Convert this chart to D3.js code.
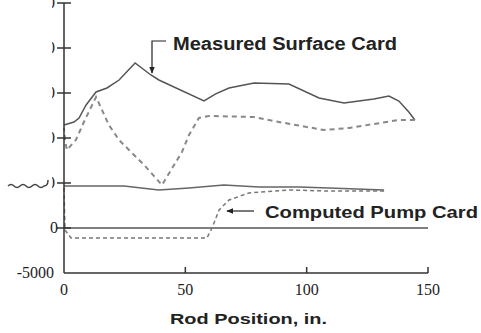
<!DOCTYPE html>
<html>
<head>
<meta charset="utf-8">
<script src="https://cdn.jsdelivr.net/npm/d3@7/dist/d3.min.js"></script>
<style>
  body { margin: 0; background: #fff; }
  text { fill: #222; }
</style>
</head>
<body>
<svg id="chart" width="481" height="333"></svg>
<script>
'use strict';

var xTicks = [0, 50, 100, 150];
var yTicks = [-5000, 0, 5000, 10000, 15000, 20000, 25000];

// measured surface card, upstroke (solid)
var surfUpX = [0, 4.1, 6.2, 9.1, 13.2, 17.7, 22.7, 29.3, 35.8, 39.1, 57.7, 62.5, 68.0, 78.3, 92.7, 105.1, 115.4, 127.7, 133.9, 138.0, 142.1, 144.6];
var surfUpY = [11444, 11778, 12222, 13667, 15111, 15556, 16444, 18333, 17000, 16444, 14111, 14900, 15556, 16111, 16000, 14444, 13889, 14333, 14667, 14111, 12889, 12000];

// measured surface card, downstroke (dashed)
var surfDownX = [144.6, 138.0, 117.4, 107.1, 88.6, 78.3, 59.7, 55.6, 51.5, 48.6, 40.4, 33.0, 26.8, 22.7, 18.5, 13.2, 8.2, 4.9, 1.2, 0.4, 0];
var surfDownY = [12000, 12000, 11111, 10889, 11778, 12333, 12444, 12222, 10333, 8444, 4778, 7000, 8667, 9778, 11444, 14556, 11778, 9778, 8667, 9778, 11111];

// computed pump card
var pumpUpX = [0, 24.7, 39.1, 51.5, 65.9, 80.3, 96.8, 109.2, 131.9];
var pumpUpY = [4667, 4667, 4222, 4444, 4778, 4556, 4556, 4444, 4222];
var pumpDownX = [0, 0.4, 2.9, 58.9, 61.0, 63.9, 68.0, 76.2, 92.7, 109.2, 131.9];
var pumpDownY = [4444, -222, -1111, -1111, 0, 2000, 3111, 3889, 4222, 4111, 4111];

var zeroLineX = [0, 150];

var svg = d3.select('#chart');

var x = d3.scaleLinear().domain([0, 150]).range([64, 428]);
var y = d3.scaleLinear().domain([-5000, 25000]).range([273, 3]);

function zip(xs, ys) {
    return xs.map(function (v, i) { return [v, ys[i]]; });
}

var line = d3.line()
    .x(function (d) { return x(d[0]); })
    .y(function (d) { return y(d[1]); });

var defs = svg.append('defs');
defs.append('clipPath').attr('id', 'cutLabels')
    .append('rect').attr('x', 52).attr('y', 0).attr('width', 20).attr('height', 333);
defs.append('marker').attr('id', 'head')
    .attr('viewBox', '0 0 10 10').attr('refX', 9).attr('refY', 5)
    .attr('markerWidth', 6).attr('markerHeight', 6).attr('orient', 'auto')
    .append('path').attr('d', 'M0,1L10,5L0,9Z').attr('fill', '#222');

// zero line
svg.append('path')
    .attr('d', line(zip(zeroLineX, [0, 0])))
    .attr('fill', 'none').attr('stroke', '#555').attr('stroke-width', 1.5);

// surface card
svg.append('path')
    .attr('d', line(zip(surfUpX, surfUpY)))
    .attr('fill', 'none').attr('stroke', '#555').attr('stroke-width', 1.5);
svg.append('path')
    .attr('d', line(zip(surfDownX, surfDownY)))
    .attr('fill', 'none').attr('stroke', '#888').attr('stroke-width', 2)
    .attr('stroke-dasharray', '5,4');

// pump card
svg.append('path')
    .attr('d', line(zip(pumpUpX, pumpUpY)))
    .attr('fill', 'none').attr('stroke', '#666').attr('stroke-width', 1.5);
svg.append('path')
    .attr('d', line(zip(pumpDownX, pumpDownY)))
    .attr('fill', 'none').attr('stroke', '#777').attr('stroke-width', 1.5)
    .attr('stroke-dasharray', '4,3');

// axes
svg.append('line')
    .attr('x1', x(0)).attr('x2', x(0)).attr('y1', y(25000)).attr('y2', y(-5000))
    .attr('stroke', '#333').attr('stroke-width', 1.5);
svg.append('line')
    .attr('x1', x(0)).attr('x2', x(150)).attr('y1', y(-5000)).attr('y2', y(-5000))
    .attr('stroke', '#333').attr('stroke-width', 1.5);

svg.selectAll('.ytick').data(yTicks.slice(1)).enter()
    .append('line').attr('class', 'ytick')
    .attr('x1', x(0) - 7).attr('x2', x(0) + 7)
    .attr('y1', function (d) { return y(d); }).attr('y2', function (d) { return y(d); })
    .attr('stroke', '#333').attr('stroke-width', 1.5);

svg.selectAll('.xtick').data(xTicks.slice(1)).enter()
    .append('line').attr('class', 'xtick')
    .attr('x1', function (d) { return x(d); }).attr('x2', function (d) { return x(d); })
    .attr('y1', y(-5000) - 6).attr('y2', y(-5000))
    .attr('stroke', '#333').attr('stroke-width', 1.5);

// y labels, the big ones are cut off at the left edge like in the scan
svg.selectAll('.ylab').data(yTicks).enter()
    .append('text').attr('class', 'ylab')
    .attr('x', function (d) { return d === -5000 ? 54 : (d > 0 ? 55 : 58); })
    .attr('y', function (d) { return y(d) + 5; })
    .attr('text-anchor', 'end')
    .attr('clip-path', function (d) { return d > 0 ? 'url(#cutLabels)' : null; })
    .style('font-family', '"Liberation Serif", "Times New Roman", serif')
    .style('font-size', '16px')
    .text(function (d) { return d; });

// wavy remnant beside the 5000 tick
svg.append('path')
    .attr('d', 'M8,' + (y(5000) + 3) + ' q3,-3 6,0 t6,0 t6,0 t6,0 t6,0 t6,0 q4,0 4,-6')
    .attr('fill', 'none').attr('stroke', '#444').attr('stroke-width', 1.5);

svg.selectAll('.xlab').data(xTicks).enter()
    .append('text').attr('class', 'xlab')
    .attr('x', function (d) { return x(d); })
    .attr('y', 295)
    .attr('text-anchor', 'middle')
    .style('font-family', '"Liberation Serif", "Times New Roman", serif')
    .style('font-size', '16px')
    .text(function (d) { return d; });

svg.append('text')
    .attr('x', 170).attr('y', 324)
    .attr('textLength', 157).attr('lengthAdjust', 'spacingAndGlyphs')
    .style('font-family', '"Liberation Sans", Arial, sans-serif')
    .style('font-size', '15px').style('font-weight', 'bold')
    .text('Rod Position, in.');

// annotations
svg.append('text')
    .attr('x', 173).attr('y', 50)
    .attr('textLength', 224).attr('lengthAdjust', 'spacingAndGlyphs')
    .style('font-family', '"Liberation Sans", Arial, sans-serif')
    .style('font-size', '18px').style('font-weight', 'bold')
    .text('Measured Surface Card');
svg.append('path')
    .attr('d', 'M166,' + 41 + 'H152V' + (y(17000) - 2))
    .attr('fill', 'none').attr('stroke', '#222').attr('stroke-width', 1.2)
    .attr('marker-end', 'url(#head)');

svg.append('text')
    .attr('x', 265).attr('y', 218)
    .attr('textLength', 213).attr('lengthAdjust', 'spacingAndGlyphs')
    .style('font-family', '"Liberation Sans", Arial, sans-serif')
    .style('font-size', '17px').style('font-weight', 'bold')
    .text('Computed Pump Card');
svg.append('path')
    .attr('d', 'M254,211H227')
    .attr('fill', 'none').attr('stroke', '#222').attr('stroke-width', 1.2)
    .attr('marker-end', 'url(#head)');
</script>
</body>
</html>
